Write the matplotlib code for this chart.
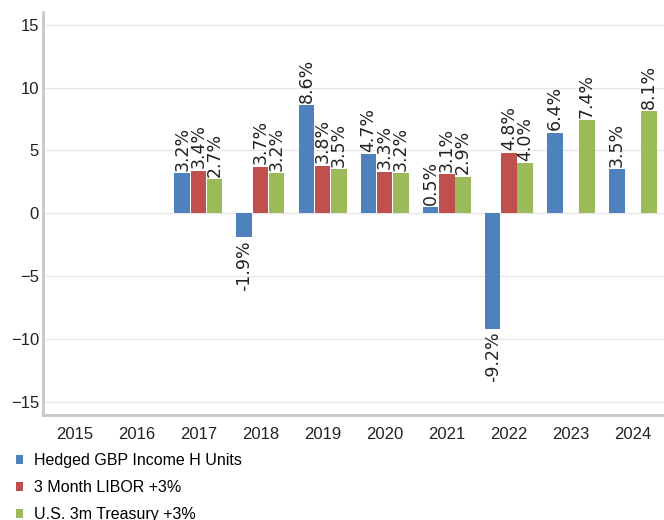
import numpy as np
import matplotlib.pyplot as plt
from matplotlib.patches import Patch

years = ['2015', '2016', '2017', '2018', '2019', '2020', '2021', '2022', '2023', '2024']
hedged = [None, None, 3.2, -1.9, 8.6, 4.7, 0.5, -9.2, 6.4, 3.5]
libor = [None, None, 3.4, 3.7, 3.8, 3.3, 3.1, 4.8, None, None]
treasury = [None, None, 2.7, 3.2, 3.5, 3.2, 2.9, 4.0, 7.4, 8.1]
series_names = ['Hedged GBP Income H Units', '3 Month LIBOR +3%', 'U.S. 3m Treasury +3%']
colors = ['#4F81BD', '#C0504D', '#9BBB59']

plt.rcParams['font.family'] = ['Liberation Sans', 'DejaVu Sans']

fig = plt.figure(figsize=(6.64, 5.2), dpi=100)
ax = fig.add_axes([0.065, 0.202, 0.935, 0.775])

x = np.arange(len(years))
w = 0.26
for i, (vals, col) in enumerate(zip([hedged, libor, treasury], colors)):
    off = (i - 1) * w
    for xi, v in zip(x, vals):
        if v is None:
            continue
        ax.bar(xi + off, v, width=w * 0.97, color=col, zorder=3)
        # labels above positive bars, below negative ones
        if v >= 0:
            ax.text(xi + off, v + 0.2, f'{v:.1f}%', rotation=90, ha='center', va='bottom',
                    fontsize=12.5, color='#222222', fontfamily='DejaVu Sans')
        else:
            ax.text(xi + off, v - 0.2, f'{v:.1f}%', rotation=90, ha='center', va='top',
                    fontsize=12.5, color='#222222', fontfamily='DejaVu Sans')

ax.set_xlim(-0.5, len(years) - 0.5)
ax.set_ylim(-16, 16)
ax.set_yticks([-15, -10, -5, 0, 5, 10, 15])
ax.set_xticks(x)
ax.set_xticklabels(years)
ax.tick_params(axis='both', length=0, labelsize=12, colors='#222222')
ax.tick_params(axis='y', pad=3)
ax.tick_params(axis='x', pad=9)
ax.grid(axis='y', color='#E6E6EC', linewidth=1, zorder=0)
ax.spines['top'].set_visible(False)
ax.spines['right'].set_visible(False)
ax.spines['left'].set_color('#C8C8C8')
ax.spines['left'].set_linewidth(2)
ax.spines['bottom'].set_color('#C8C8C8')
ax.spines['bottom'].set_linewidth(2)

handles = [Patch(facecolor=c, edgecolor='none') for c in colors]
fig.legend(handles, series_names, loc='upper left', bbox_to_anchor=(0.024, 0.129),
           frameon=False, fontsize=11.5, handlelength=0.45, handleheight=0.45,
           handletextpad=0.7, labelspacing=0.76, borderaxespad=0, borderpad=0)

fig.savefig('out.png', dpi=100)
